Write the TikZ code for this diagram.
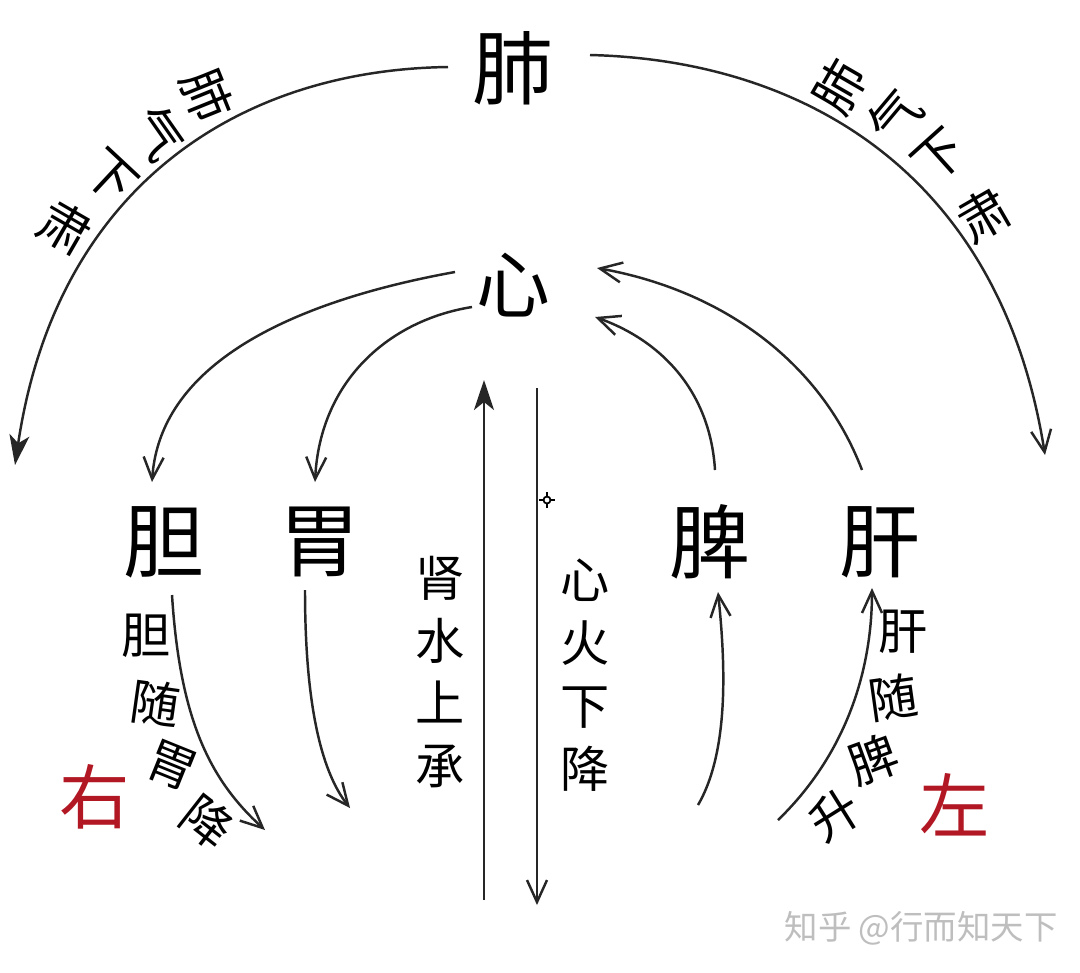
\documentclass[tikz,border=0pt]{standalone}
\usepackage{fontspec}
\newfontfamily\cjk{Noto Sans CJK SC}
\usetikzlibrary{arrows.meta,calc}
\definecolor{zred}{RGB}{178,24,36}
\definecolor{wmgray}{RGB}{190,190,190}
\tikzset{
  organ/.style={font=\cjk\fontsize{23pt}{23pt}\selectfont, inner sep=0pt},
  heart/.style={font=\cjk\fontsize{21pt}{21pt}\selectfont, inner sep=0pt},
  side/.style={font=\cjk\fontsize{20pt}{20pt}\selectfont, text=zred, inner sep=0pt},
  small/.style={font=\cjk\fontsize{14pt}{14pt}\selectfont, inner sep=0pt},
  arctext/.style={font=\cjk\fontsize{14.5pt}{14.5pt}\selectfont, inner sep=0pt},
  column/.style={font=\cjk\fontsize{14pt}{17.9pt}\selectfont, align=center, inner sep=0pt},
  flow/.style={line width=0.7pt, draw=black!85},
  barb/.style={-{Straight Barb[length=0.22cm,width=0.2cm,line width=0.7pt]}},
  filled/.style={-{Stealth[length=0.3cm,width=0.2cm,inset=0.08cm]}},
  wmark/.style={font=\cjk\fontsize{9.5pt}{9.5pt}\selectfont, text=wmgray, inner sep=0pt}
}
\begin{document}
\begin{tikzpicture}
\useasboundingbox (0,0) rectangle (10.8,-9.72);
\fill[white] (0,0) rectangle (10.8,-9.72);

% main organs
\node[organ] (fei) at (5.13,-0.68) {肺};
\node[heart] (xin) at (5.13,-2.85) {心};
\node[organ] (dan) at (1.64,-5.42) {胆};
\node[organ] (wei) at (3.20,-5.42) {胃};
\node[organ] (pi)  at (7.10,-5.42) {脾};
\node[organ] (gan) at (8.80,-5.42) {肝};

% side labels
\node[side] (you) at (0.95,-7.97) {右};
\node[side] (zuo) at (9.55,-8.05) {左};

% arc texts left
\node[arctext, rotate=-68] (l1) at (2.07,-0.95) {肺};
\node[arctext, rotate=-55] (l2) at (1.58,-1.33) {气};
\node[arctext, rotate=-43] (l3) at (1.10,-1.77) {下};
\node[arctext, rotate=-30] (l4) at (0.65,-2.27) {肃};
% arc texts right
\node[arctext, rotate=60] (r1) at (8.40,-0.87) {肺};
\node[arctext, rotate=50] (r2) at (8.95,-1.16) {气};
\node[arctext, rotate=42] (r3) at (9.40,-1.56) {下};
\node[arctext, rotate=30] (r4) at (9.84,-2.15) {肃};

% vertical columns
\node[column] (shen) at (4.40,-6.72) {肾\\水\\上\\承};
\node[column] (huo)  at (5.85,-6.75) {心\\火\\下\\降};

% 胆随胃降
\node[small, rotate=0]   (d1) at (1.46,-6.36) {胆};
\node[small, rotate=-8]  (d2) at (1.55,-7.03) {随};
\node[small, rotate=-22] (d3) at (1.72,-7.66) {胃};
\node[small, rotate=-38] (d4) at (2.07,-8.22) {降};
% 肝随脾升
\node[small, rotate=0]  (g1) at (9.03,-6.32) {肝};
\node[small, rotate=8]  (g2) at (8.93,-6.98) {随};
\node[small, rotate=20] (g3) at (8.73,-7.60) {脾};
\node[small, rotate=32] (g4) at (8.35,-8.15) {升};

% free ends
\coordinate (Lend) at (0.15,-4.65);
\coordinate (Rend) at (10.45,-4.55);
\coordinate (upS) at (4.84,-9.00);
\coordinate (upE) at (4.84,-3.80);
\coordinate (dnS) at (5.37,-3.88);
\coordinate (dnE) at (5.37,-9.05);
\coordinate (danE) at (2.65,-8.30);
\coordinate (weiE) at (3.50,-8.08);
\coordinate (piS) at (6.98,-8.05);
\coordinate (ganS) at (7.78,-8.20);

% big arcs from 肺
\draw[flow, filled] ($(fei)+(-0.65,0.01)$) .. controls (2.3,-0.7) and (0.55,-1.95) .. (Lend);
\draw[flow, barb] ($(fei)+(0.77,0.13)$) .. controls (8.0,-0.6) and (10.0,-1.7) .. (Rend);

% 心 down to 胆 and 胃
\draw[flow, barb] ($(xin)+(-0.58,0.13)$) .. controls (3.0,-3.0) and (1.6,-3.6) .. ($(dan)+(-0.12,0.60)$);
\draw[flow, barb] ($(xin)+(-0.41,-0.22)$) .. controls (3.9,-3.2) and (3.2,-3.8) .. ($(wei)+(-0.05,0.60)$);

% 脾 and 肝 up to 心
\draw[flow, barb] ($(pi)+(0.05,0.72)$) .. controls (7.1,-3.9) and (6.6,-3.4) .. ($(xin)+(0.82,-0.32)$);
\draw[flow, barb] ($(gan)+(-0.18,0.72)$) .. controls (8.2,-3.6) and (7.2,-2.9) .. ($(xin)+(0.84,0.17)$);

% vertical axis
\draw[flow, filled] (upS) -- (upE);
\draw[flow, barb] (dnS) -- (dnE);

% lower curves
\draw[flow, barb] ($(dan)+(0.08,-0.53)$) .. controls (1.80,-7.2) and (2.1,-7.8) .. (danE);
\draw[flow, barb] ($(wei)+(-0.15,-0.48)$) .. controls (3.05,-7.0) and (3.2,-7.7) .. (weiE);
\draw[flow, barb] (piS) .. controls (7.3,-7.5) and (7.25,-6.6) .. ($(pi)+(0.08,-0.50)$);
\draw[flow, barb] (ganS) .. controls (8.4,-7.6) and (8.72,-6.8) .. ($(gan)+(-0.08,-0.46)$);

% small crosshair mark
\coordinate (cm) at (5.47,-5.00);
\draw[line width=0.5pt] (cm) circle (0.035);
\draw[line width=0.5pt] ($(cm)+(-0.08,0)$) -- ($(cm)+(-0.04,0)$) ($(cm)+(0.04,0)$) -- ($(cm)+(0.08,0)$)
  ($(cm)+(0,-0.08)$) -- ($(cm)+(0,-0.04)$) ($(cm)+(0,0.04)$) -- ($(cm)+(0,0.08)$);

% watermark
\node[wmark] (wm) at (9.21,-9.28) {知乎 @行而知天下};
\end{tikzpicture}
\end{document}
